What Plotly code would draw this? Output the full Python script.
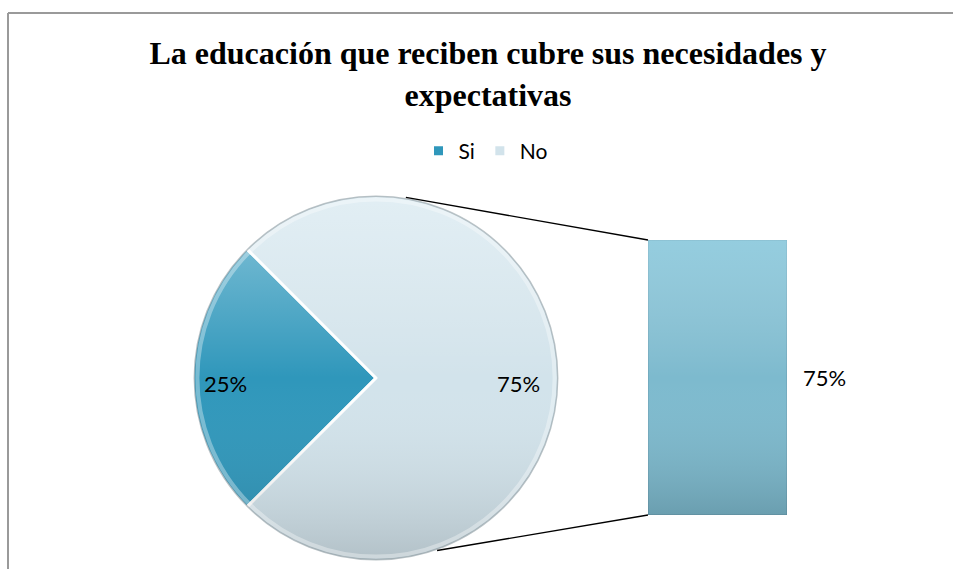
import math
import base64
import plotly.graph_objects as go

# data
labels = ["Si", "No"]
values = [25, 75]
bar_labels = ["No"]
bar_values = [75]

title = "<b>La educación que reciben cubre sus necesidades y<br>expectativas</b>"

W, H = 953, 569
colors = ["#2F97BB", "#D2E3EB"]
bar_color = "#7DBACE"

# pie geometry in pixels (center, radius)
cx, cy, r = 376, 378, 183
# secondary bar box in pixels
bx0, bx1, by0, by1 = 648, 787, 240, 515


def px(x):
    return x / W


def py(y):
    return 1 - y / H


def svg_uri(svg):
    return "data:image/svg+xml;base64," + base64.b64encode(svg.encode()).decode()


# soft vertical shading, like the office bevel look
pie_glow = svg_uri(
    '<svg xmlns="http://www.w3.org/2000/svg" width="200" height="200" viewBox="0 0 200 200">'
    '<defs><linearGradient id="g" x1="0" y1="0" x2="0" y2="1">'
    '<stop offset="0" stop-color="#f4fcff" stop-opacity="0.45"/>'
    '<stop offset="0.5" stop-color="#ffffff" stop-opacity="0"/>'
    '<stop offset="1" stop-color="#000000" stop-opacity="0.15"/>'
    '</linearGradient></defs>'
    '<circle cx="100" cy="100" r="99.3" fill="url(#g)" stroke="#8a9aa0" stroke-opacity="0.6" stroke-width="0.8"/>'
    '<circle cx="100" cy="100" r="97.6" fill="none" stroke="#ffffff" stroke-opacity="0.35" stroke-width="2.2"/>'
    '</svg>')
bar_glow = svg_uri(
    '<svg xmlns="http://www.w3.org/2000/svg" width="100" height="200" viewBox="0 0 100 200" preserveAspectRatio="none">'
    '<defs><linearGradient id="g" x1="0" y1="0" x2="0" y2="1">'
    '<stop offset="0" stop-color="#bff0ff" stop-opacity="0.35"/>'
    '<stop offset="0.5" stop-color="#ffffff" stop-opacity="0"/>'
    '<stop offset="1" stop-color="#000000" stop-opacity="0.15"/>'
    '</linearGradient></defs>'
    '<rect x="0" y="0" width="100" height="200" fill="url(#g)"/>'
    '</svg>')

fig = go.Figure()

fig.add_trace(go.Pie(
    labels=labels,
    values=values,
    sort=False,
    direction="counterclockwise",
    rotation=-135,
    textinfo="none",
    hoverinfo="label+percent",
    marker=dict(colors=colors, line=dict(color="white", width=3)),
    domain=dict(x=[px(cx - r), px(cx + r)], y=[py(cy + r), py(cy - r)]),
))

fig.add_trace(go.Bar(
    x=bar_labels,
    y=bar_values,
    width=1,
    marker=dict(color=bar_color, line=dict(color="#6A9CB0", width=1)),
    showlegend=False,
    hoverinfo="y",
))

# percent labels on the pie, from slice mid angles
total = sum(values)
annotations = []
start = 135.0
for lab, v in zip(labels, values):
    span = 360.0 * v / total
    mid = math.radians(start + span / 2)
    frac = 0.82 if v < total / 2 else 0.78
    annotations.append(dict(
        x=px(cx + frac * r * math.cos(mid)),
        y=py(cy - frac * r * math.sin(mid) + 5),
        xref="paper", yref="paper", xanchor="center", yanchor="middle",
        text=f"{v / total:.0%}", showarrow=False,
        font=dict(family="Lato", size=22, color="black"),
    ))
    start += span

# label to the right of the bar
annotations.append(dict(
    x=0.5, y=bar_values[0] / 2, xref="x", yref="y",
    text=f"{bar_values[0] / total:.0%}", showarrow=False,
    xanchor="left", yanchor="middle", xshift=14,
    font=dict(family="Lato", size=22, color="black"),
))

# connector lines from the pie rim to the bar corners
a_top = math.radians(80.6)
a_bot = math.radians(-70.5)
shapes = [
    dict(type="line", xref="paper", yref="paper",
         x0=px(cx + r * math.cos(a_top)), y0=py(cy - r * math.sin(a_top)),
         x1=px(bx0), y1=py(by0), line=dict(color="black", width=1.3)),
    dict(type="line", xref="paper", yref="paper",
         x0=px(cx + r * math.cos(a_bot)), y0=py(cy - r * math.sin(a_bot)),
         x1=px(bx0), y1=py(by1), line=dict(color="black", width=1.3)),
    # chart border
    dict(type="line", xref="paper", yref="paper", x0=px(8), y0=py(13),
         x1=1.01, y1=py(13), line=dict(color="#9A9A9A", width=2)),
    dict(type="line", xref="paper", yref="paper", x0=px(8), y0=py(13),
         x1=px(8), y1=-0.01, line=dict(color="#9A9A9A", width=2)),
]

images = [
    dict(source=pie_glow, xref="paper", yref="paper", x=px(cx - r), y=py(cy - r),
         sizex=2 * r / W, sizey=2 * r / H, sizing="stretch",
         xanchor="left", yanchor="top", layer="above"),
    dict(source=bar_glow, xref="paper", yref="paper", x=px(bx0), y=py(by0),
         sizex=(bx1 - bx0) / W, sizey=(by1 - by0) / H, sizing="stretch",
         xanchor="left", yanchor="top", layer="above"),
]

fig.update_layout(
    width=W, height=H,
    margin=dict(l=0, r=0, t=0, b=0),
    paper_bgcolor="white", plot_bgcolor="white",
    title=dict(text=title, x=488 / W, xanchor="center", y=py(64), yanchor="top",
               font=dict(family="Liberation Serif", size=32, color="black")),
    legend=dict(orientation="h", x=486 / W, xanchor="center", y=py(151), yanchor="middle",
                font=dict(family="Lato", size=21, color="black"),
                itemwidth=30, traceorder="normal"),
    xaxis=dict(domain=[px(bx0), px(bx1)], range=[-0.5, 0.5], visible=False, fixedrange=True),
    yaxis=dict(domain=[py(by1), py(by0)], range=[0, bar_values[0]], visible=False, fixedrange=True),
    annotations=annotations,
    shapes=shapes,
    images=images,
    showlegend=True,
)

fig.write_html("out.html", config={"displayModeBar": False},
               post_script="document.body.style.margin='0';")
